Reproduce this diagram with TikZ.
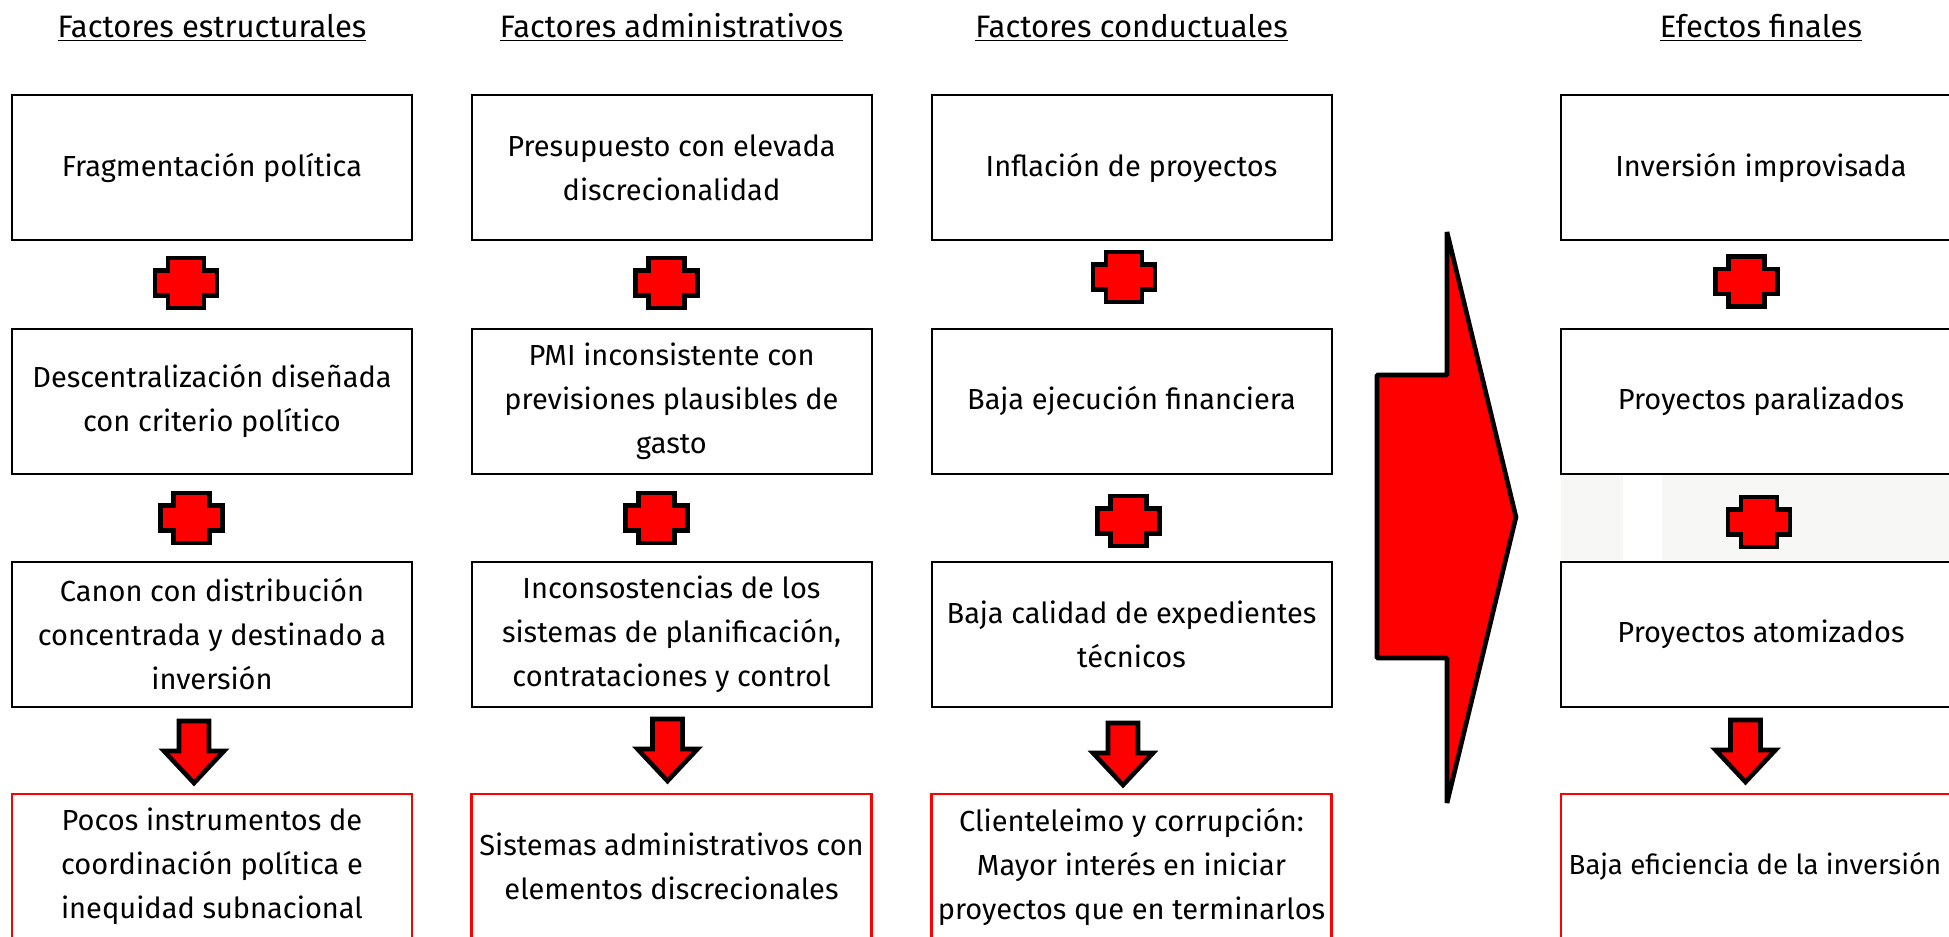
\documentclass[tikz,border=0pt]{standalone}
\usepackage{fontspec}
\setmainfont{Fira Sans}
\definecolor{rojo}{RGB}{255,0,0}
\definecolor{grisclaro}{RGB}{247,247,245}
\tikzset{
  caja/.style={draw=black, line width=1pt, minimum width=200pt, minimum height=72.5pt,
    inner sep=0pt, align=center, font=\fontsize{14.5}{22}\selectfont},
  cajaroja/.style={caja, draw=rojo, line width=1.4pt},
  titulo/.style={anchor=base, font=\fontsize{15.5}{18}\selectfont},
  bloque/.style={fill=rojo, draw=black, line width=2.3pt},
  pics/cruz/.style={code={
    \draw[bloque] (-18,-25) -- (18,-25) -- (18,-12.5) -- (31,-12.5) -- (31,12.5) -- (18,12.5)
      -- (18,25) -- (-18,25) -- (-18,12.5) -- (-31,12.5) -- (-31,-12.5) -- (-18,-12.5) -- cycle;}},
  pics/flecha/.style={code={
    \draw[bloque] (-15,-31) -- (15,-31) -- (15,-1) -- (30,-1) -- (0,31) -- (-30,-1) -- (-15,-1) -- cycle;}}
}
\begin{document}
\begin{tikzpicture}[x=0.5pt, y=-0.5pt]
      \clip (0,0) rectangle (1949,937);
      \fill[white] (0,0) rectangle (1949,937);
      \fill[grisclaro] (1561,475) rectangle (1623,560);
      \fill[grisclaro] (1662,475) rectangle (1949,560);
      \draw
        (212,37) node[titulo] (tEst){\underline{Factores estructurales}}
        (671.5,37) node[titulo] (tAdm){\underline{Factores administrativos}}
        (1131.5,37) node[titulo] (tCon){\underline{Factores conductuales}}
        (1761,37) node[titulo] (tEfe){\underline{Efectos finales}};
      \draw
        (212,167.5) node[caja] (est1){Fragmentación política}
        (212,401) node[caja] (est2){Descentralización diseñada\\con criterio político}
        (212,634.5) node[caja] (est3){Canon con distribución\\concentrada y destinado a\\inversión}
        (212,866.5) node[cajaroja] (est4){Pocos instrumentos de\\coordinación política e\\inequidad subnacional};
      \draw
        (671.5,167.5) node[caja] (adm1){Presupuesto con elevada\\discrecionalidad}
        (671.5,401) node[caja] (adm2){PMI inconsistente con\\previsiones plausibles de\\gasto}
        (671.5,634.5) node[caja] (adm3){Inconsostencias de los\\sistemas de planificación,\\contrataciones y control}
        (671.5,866.5) node[cajaroja] (adm4){Sistemas administrativos con\\elementos discrecionales};
      \draw
        (1131.5,167.5) node[caja] (con1){Inflación de proyectos}
        (1131.5,401) node[caja] (con2){Baja ejecución financiera}
        (1131.5,634.5) node[caja] (con3){Baja calidad de expedientes\\técnicos}
        (1131.5,866.5) node[cajaroja] (con4){Clienteleimo y corrupción:\\Mayor interés en iniciar\\proyectos que en terminarlos};
      \draw
        (1761,167.5) node[caja] (efe1){Inversión improvisada}
        (1761,401) node[caja] (efe2){Proyectos paralizados}
        (1761,634.5) node[caja] (efe3){Proyectos atomizados}
        (1761,866.5) node[cajaroja, font=\fontsize{13.8}{22}\selectfont] (efe4){Baja eficiencia de la inversión\hspace*{6pt}};
      \begin{scope}
        \pic at (186,283) {cruz};
        \pic at (666.5,283) {cruz};
        \pic at (1124,277) {cruz};
        \pic at (1746.5,281.5) {cruz};
        \pic at (191.5,518) {cruz};
        \pic at (656.5,518) {cruz};
        \pic at (1128.5,521) {cruz};
        \pic at (1759,522) {cruz};
        \pic at (194,752) {flecha};
        \pic at (667.5,750) {flecha};
        \pic at (1123,754) {flecha};
        \pic at (1745.5,751) {flecha};
      \end{scope}
      \draw[bloque, line join=bevel] (1377,375) -- (1447,375) -- (1447,232) -- (1516,517)
        -- (1447,803) -- (1447,658) -- (1377,658) -- cycle;
    \end{tikzpicture}
\end{document}
